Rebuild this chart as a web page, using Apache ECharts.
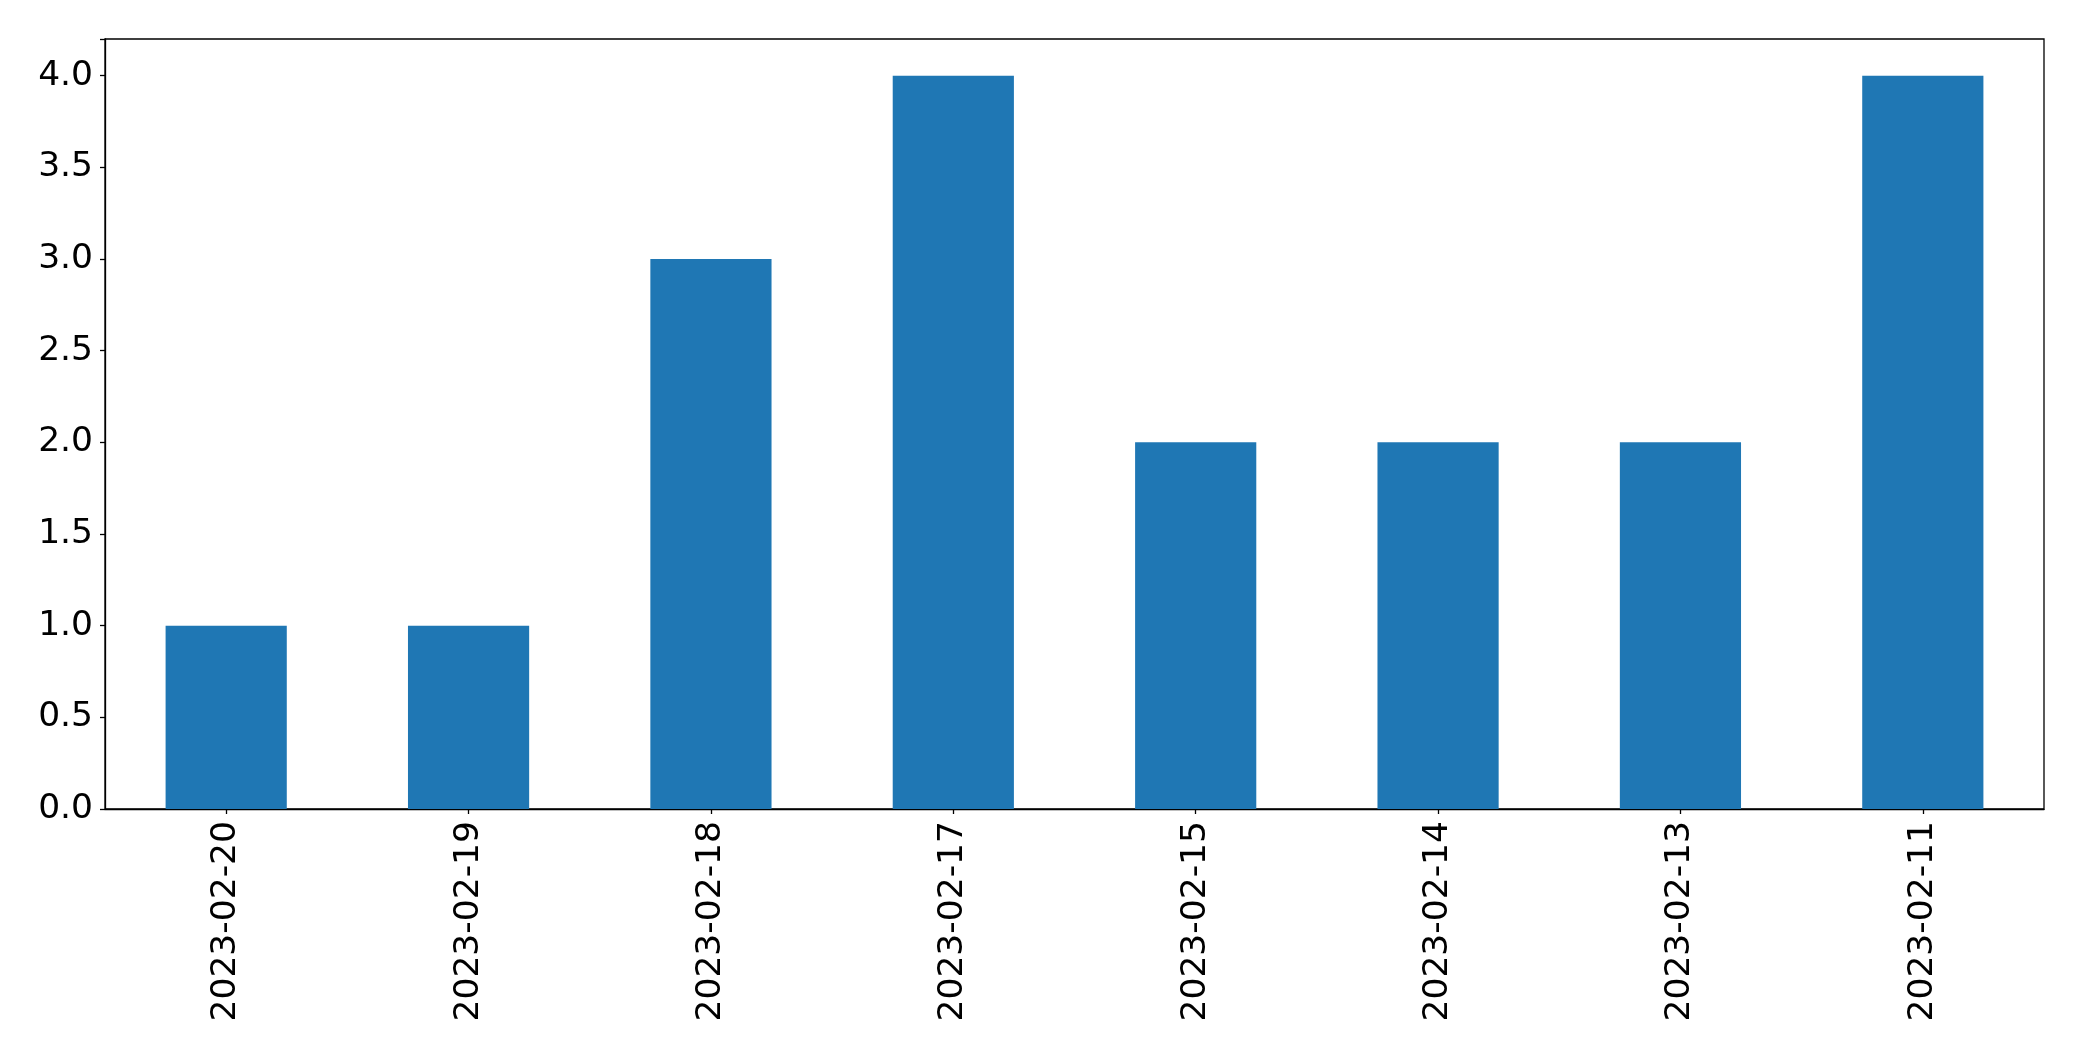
<!DOCTYPE html>
<html><head><meta charset="utf-8">
<script src="https://cdn.jsdelivr.net/npm/echarts@6/dist/echarts.min.js"></script>
<style>html,body{margin:0;padding:0;background:#fff}#c{width:2082px;height:1061px}</style>
</head><body><div id="c"></div>
<script>
const categories = ["2023-02-20","2023-02-19","2023-02-18","2023-02-17","2023-02-15","2023-02-14","2023-02-13","2023-02-11"];
const values = [1, 1, 3, 4, 2, 2, 2, 4];
const yTicks = [0, 0.5, 1, 1.5, 2, 2.5, 3, 3.5, 4];

const chart = echarts.init(document.getElementById('c'), null, {renderer: 'canvas'});
const font = "DejaVu Sans";
chart.setOption({
  animation: false,
  backgroundColor: '#fff',
  grid: {left: 105, top: 39, right: 38, bottom: 252, show: true, borderColor: '#000', borderWidth: 1.3, backgroundColor: 'transparent'},
  xAxis: {
    type: 'category', data: categories,
    axisLine: {show: true, lineStyle: {color: '#000', width: 1.3}},
    axisTick: {show: true, alignWithLabel: true, length: 5, lineStyle: {color: '#000', width: 1.3}},
    axisLabel: {rotate: 90, color: '#000', fontFamily: font, fontSize: 34.5, margin: 12, interval: 0},
    splitLine: {show: false}
  },
  yAxis: {
    type: 'value', min: 0, max: 4.2, interval: 0.5,
    axisLine: {show: true, lineStyle: {color: '#000', width: 1.3}},
    axisTick: {show: true, length: 5, lineStyle: {color: '#000', width: 1.3}},
    axisLabel: {color: '#000', fontFamily: font, fontSize: 34.5, margin: 12,
      formatter: v => (yTicks.some(t => Math.abs(t - v) < 1e-9) ? v.toFixed(1) : '')},
    splitLine: {show: false}
  },
  series: [{
    type: 'bar', data: values, barWidth: '50%',
    itemStyle: {color: '#1f77b4'}
  }]
});
</script></body></html>
